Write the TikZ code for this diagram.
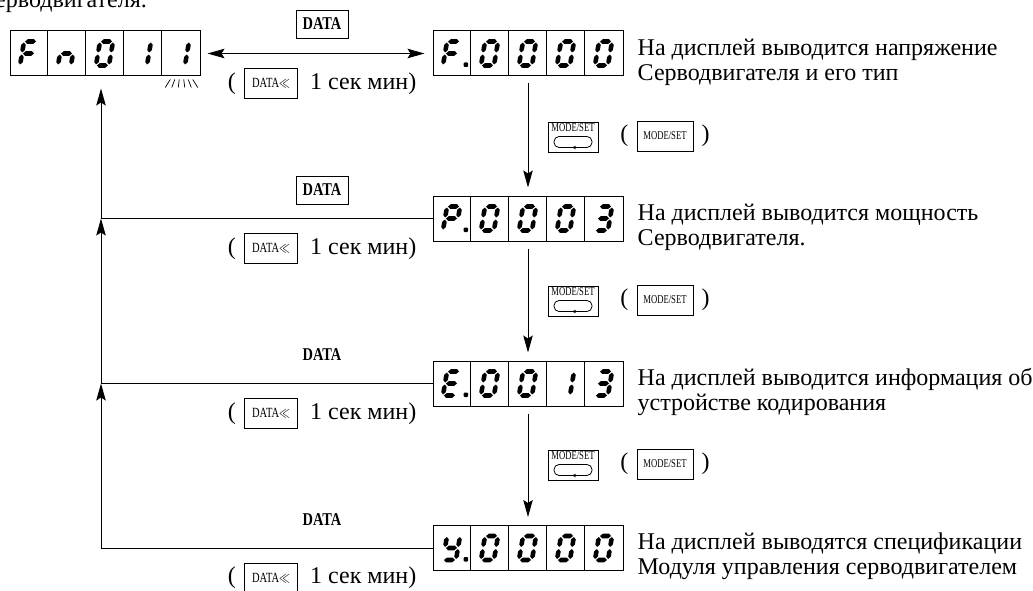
\documentclass[tikz,border=0pt]{standalone}
\usepackage{fontspec}
\setmainfont{Liberation Serif}
\usepackage{graphicx}
\usetikzlibrary{arrows.meta,positioning,calc}

% seven segment pieces (local frame: y up, digit centred)
\newcommand{\hseg}[3]{\fill (#1+1,#3) -- (#1+3.4,#3+2.3) -- (#2-3.4,#3+2.3) -- (#2-1,#3) -- (#2-3.4,#3-2.3) -- (#1+3.4,#3-2.3) -- cycle;}
\newcommand{\vseg}[3]{\fill (#1,#2+1) -- (#1+2.3,#2+3.4) -- (#1+2.3,#3-3.4) -- (#1,#3-1) -- (#1-2.3,#3-3.4) -- (#1-2.3,#2+3.4) -- cycle;}
\newcommand{\lcdsega}{\hseg{-6.5}{6.5}{12}}
\newcommand{\lcdsegb}{\vseg{6.5}{0}{12}}
\newcommand{\lcdsegc}{\vseg{6.5}{-12}{0}}
\newcommand{\lcdsegd}{\hseg{-6.5}{6.5}{-12}}
\newcommand{\lcdsege}{\vseg{-6.5}{-12}{0}}
\newcommand{\lcdsegf}{\vseg{-6.5}{0}{12}}
\newcommand{\lcdsegg}{\hseg{-6.5}{6.5}{0}}

% digits of one panel: #1 node, #2 segment lists of the five cells
\newcommand{\lcdshow}[2]{%
  \foreach \cellsegs [count=\i] in {#2} {
    \begin{scope}[shift={($(#1.west)+(\i*38-19,0)$)}, xslant=0.17, yscale=-1]
      \foreach \s in \cellsegs {\csname lcdseg\s\endcsname}
    \end{scope}
  }
  \foreach \k in {1,...,4}
    \draw[thin line] ([xshift=\k*38pt]#1.south west) -- ([xshift=\k*38pt]#1.north west);
}
\newcommand{\lcddot}[1]{\fill[rounded corners=1pt] ($(#1.west)+(31,9)$) rectangle +(4.5,4.5);}

\newcommand{\bigfont}{\fontsize{24}{25}\selectfont}
\newcommand{\keyfont}{\fontsize{12}{12}\selectfont}

\begin{document}
\begin{tikzpicture}[x=1pt, y=-1pt,
  thin line/.style={line width=1pt},
  lcd/.style={draw, line width=1pt, minimum width=190pt, minimum height=45pt, inner sep=0pt},
  wire/.style={line width=1pt},
  flow/.style={line width=1pt, -{Stealth[length=17pt, width=9.5pt, inset=3pt]}},
  twoway/.style={line width=1pt, {Stealth[length=17pt, width=9.5pt, inset=3pt]}-{Stealth[length=17pt, width=9.5pt, inset=3pt]}},
  datakey/.style={draw, line width=0.9pt, minimum width=52pt, minimum height=28pt, inner sep=0pt, font=\fontsize{18}{18}\selectfont\bfseries},
  dataplain/.style={inner sep=0pt, font=\fontsize{18}{18}\selectfont\bfseries},
  holdkey/.style={draw, line width=0.9pt, minimum width=53pt, minimum height=30pt, inner sep=0pt, font=\fontsize{14}{14}\selectfont},
  modekey/.style={draw, line width=0.9pt, minimum height=30pt, inner sep=0pt, font=\keyfont},
  paren/.style={inner sep=0pt, font=\bigfont},
  note/.style={anchor=north west, align=left, inner sep=0pt, font=\bigfont}]
\useasboundingbox (0,0) rectangle (1033,591);

\node[note, anchor=base east] (title) at (147,8) {Серводвигателя.};

% Panels
\node[lcd] (Fn) at (105,53.5) {};
\node[lcd] (F) at (528,53.5) {};
\node[lcd] (P) at (528,218.5) {};
\node[lcd] (E) at (528,383.5) {};
\node[lcd] (Y) at (528,548) {};

\lcdshow{Fn}{{a,f,e,g},{c,e,g},{a,b,c,d,e,f},{b,c},{b,c}}
\lcdshow{F}{{a,f,e,g},{a,b,c,d,e,f},{a,b,c,d,e,f},{a,b,c,d,e,f},{a,b,c,d,e,f}}
\lcdshow{P}{{a,b,e,f,g},{a,b,c,d,e,f},{a,b,c,d,e,f},{a,b,c,d,e,f},{a,b,c,d,g}}
\lcdshow{E}{{a,d,e,f,g},{a,b,c,d,e,f},{a,b,c,d,e,f},{b,c},{a,b,c,d,g}}
\lcdshow{Y}{{b,c,d,f,g},{a,b,c,d,e,f},{a,b,c,d,e,f},{a,b,c,d,e,f},{a,b,c,d,e,f}}
\lcddot{F} \lcddot{P} \lcddot{E} \lcddot{Y}

% blinking last digit
\foreach \r in {-2.5,-1.5,-0.5,0.5,1.5,2.5}
  \draw[line width=0.7pt] ($(Fn.south east)+(-19+4.5*\r,3)$) -- ($(Fn.south east)+(-19+6.5*\r,11)$);

% Notes
\node[note] (tF) at ($(F.north east)+(14,8)$) {На дисплей выводится напряжение\\Серводвигателя и его тип};
\node[note] (tP) at ($(P.north east)+(14,8)$) {На дисплей выводится мощность\\Серводвигателя.};
\node[note] (tE) at ($(E.north east)+(14,8)$) {На дисплей выводится информация об\\устройстве кодирования};
\node[note] (tY) at ($(Y.north east)+(14,8)$) {На дисплей выводятся спецификации\\Модуля управления серводвигателем};

% DATA keys
\node[datakey] (dk1) at (322,24) {\scalebox{0.8}[1]{DATA}};
\node[datakey] (dk2) at (322,190) {\scalebox{0.8}[1]{DATA}};
\node[dataplain] (dk3) at (322,355) {\scalebox{0.8}[1]{DATA}};
\node[dataplain] (dk4) at (322,520) {\scalebox{0.8}[1]{DATA}};

% DATA held 1 s
\foreach \n/\yy in {1/83.5, 2/248.5, 3/413.5, 4/578} {
  \node[holdkey] (h\n) at (271,\yy) {\scalebox{0.75}[1]{DATA$\ll$}};
  \node[paren, left=8pt of h\n] (h\n a) {(};
  \node[paren, right=12pt of h\n] (h\n b) {1 сек мин)};
}

% MODE/SET keys
\foreach \n/\yy in {1/137, 2/301, 3/465} {
  \node[modekey, minimum width=50pt] (m\n) at (573,\yy) {};
  \node[inner sep=0pt, font=\keyfont, below=2pt of m\n.north] (m\n t) {\scalebox{0.72}[1]{MODE/SET}};
  \draw[line width=0.8pt, rounded corners=5pt] ($(m\n.center)+(-19,-0.5)$) rectangle ($(m\n.center)+(19,10.5)$);
  \draw[line width=0.8pt, -{Stealth[length=4pt, width=3.5pt]}] ($(m\n.center)+(5,10.5)$) -- ($(m\n.center)+(-1,10.5)$);
  \node[modekey, minimum width=56pt] (k\n) at (665,\yy-1) {\scalebox{0.72}[1]{MODE/SET}};
  \node[paren, left=8pt of k\n] (k\n a) {(};
  \node[paren, right=8pt of k\n] (k\n b) {)};
}

% Arrows between panels
\draw[twoway, shorten <=7pt, shorten >=8pt] (Fn) -- (F);
\draw[flow, shorten <=7pt, shorten >=8pt] (F) -- (P);
\draw[flow, shorten <=7pt, shorten >=8pt] (P) -- (E);
\draw[flow, shorten <=7pt, shorten >=8pt] (E) -- (Y);

% Return line
\coordinate (jP) at (101,218.5);
\coordinate (jE) at (101,383.5);
\coordinate (jY) at (101,548);
\draw[wire] (Y.west) -- (jY);
\draw[flow] (jY) -- (jE);
\draw[wire] (E.west) -- (jE);
\draw[flow] (jE) -- (jP);
\draw[wire] (P.west) -- (jP);
\draw[flow, shorten >=12pt] (jP) -- (jP |- Fn.south);
\end{tikzpicture}
\end{document}
